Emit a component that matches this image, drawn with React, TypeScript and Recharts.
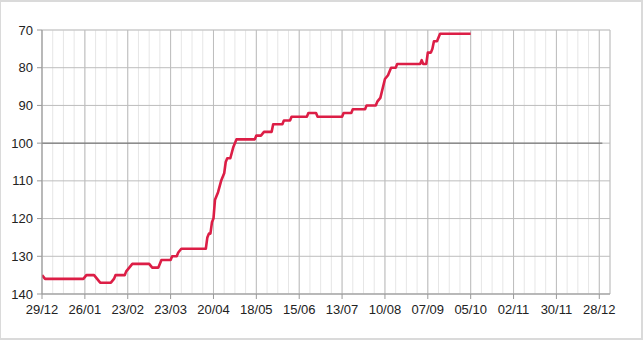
import React from 'react';
import { LineChart, Line, XAxis, YAxis, CartesianGrid, ReferenceLine } from 'recharts';

// day offset from 29/12 and rank
const days = [
  0, 2, 27, 29, 34, 36, 38, 45, 47, 48, 54, 55, 57, 59, 70, 72, 76, 78, 84, 85, 88, 89, 91,
  107, 108, 109, 110, 111, 112, 113, 115, 117, 119, 120, 121, 123, 125, 127, 139, 140, 143, 145,
  150, 151, 157, 158, 162, 163, 173, 174, 179, 180, 196, 197, 202, 203, 211, 212, 218, 219, 221,
  224, 226, 228, 231, 232, 247, 248, 249, 251, 252, 254, 255, 256, 258, 260, 280,
];
const ranks = [
  135, 136, 136, 135, 135, 136, 137, 137, 136, 135, 135, 134, 133, 132, 132, 133, 133, 131, 131, 130, 130, 129, 128,
  128, 125, 124, 124, 121, 120, 115, 113, 110, 108, 105, 104, 104, 101, 99, 99, 98, 98, 97,
  97, 95, 95, 94, 94, 93, 93, 92, 92, 93, 93, 92, 92, 91, 91, 90, 90, 89, 88,
  83, 82, 80, 80, 79, 79, 78, 79, 79, 76, 76, 75, 73, 73, 71, 71,
];

const majorTicks = [0, 28, 56, 84, 112, 140, 168, 196, 224, 252, 280, 308, 336, 364];
const tickLabels = ['29/12', '26/01', '23/02', '23/03', '20/04', '18/05', '15/06', '13/07', '10/08', '07/09', '05/10', '02/11', '30/11', '28/12'];
const minorTicks = [
  0, 7, 14, 21, 28, 35, 42, 49, 56, 63, 70, 77, 84, 91, 98, 105, 112, 119, 126, 133, 140, 147, 154,
  161, 168, 175, 182, 189, 196, 203, 210, 217, 224, 231, 238, 245, 252, 259, 266, 273, 280, 287, 294,
  301, 308, 315, 322, 329, 336, 343, 350, 357, 364, 371,
];
const yTicks = [70, 80, 90, 100, 110, 120, 130, 140];
const yMinorTicks = [70, 75, 80, 85, 90, 95, 100, 105, 110, 115, 120, 125, 130, 135, 140];

const data = days.map((d, i) => ({ day: d, rank: ranks[i] }));

const font = { fontFamily: '"Liberation Sans", Arial, sans-serif', fontSize: 13, fill: '#222' };

export default function App() {
  return (
    <div
      style={{
        position: 'absolute',
        left: 0,
        top: 0,
        width: 643,
        height: 340,
        boxSizing: 'border-box',
        border: '2px solid #dadada',
        borderLeftWidth: 1,
        background: '#fff',
      }}
    >
      <LineChart width={640} height={336} data={data} margin={{ top: 28, right: 31, bottom: 14, left: 0 }}>
        <XAxis
          xAxisId="minor"
          type="number"
          dataKey="day"
          domain={[0, 371]}
          ticks={minorTicks}
          tickFormatter={() => ''}
          height={0}
          tickSize={3}
          axisLine={false}
          tickLine={{ stroke: '#999' }}
          allowDataOverflow
        />
        <XAxis
          type="number"
          dataKey="day"
          domain={[0, 371]}
          ticks={majorTicks}
          tickFormatter={(v: number) => tickLabels[majorTicks.indexOf(v)] ?? ''}
          height={30}
          tickSize={5}
          tickMargin={6}
          tick={font}
          axisLine={{ stroke: '#999' }}
          tickLine={{ stroke: '#999' }}
          interval={0}
          allowDataOverflow
        />
        <YAxis
          yAxisId="minor"
          type="number"
          domain={[70, 140]}
          reversed
          ticks={yMinorTicks}
          width={0}
          tick={false}
          tickLine={false}
          axisLine={false}
        />
        <YAxis
          type="number"
          domain={[70, 140]}
          reversed
          ticks={yTicks}
          width={41}
          tickSize={5}
          tickMargin={4}
          tick={font}
          axisLine={{ stroke: '#999' }}
          tickLine={{ stroke: '#999' }}
          interval={0}
        />
        <CartesianGrid xAxisId="minor" yAxisId="minor" stroke="#e6e6e6" />
        <CartesianGrid stroke="#bdbdbd" />
        <ReferenceLine
          segment={[
            { x: 0, y: 100 },
            { x: 366, y: 100 },
          ]}
          stroke="#666"
          strokeWidth={1}
        />
        <Line
          type="linear"
          dataKey="rank"
          stroke="#dc1e46"
          strokeWidth={2.6}
          strokeLinejoin="round"
          dot={false}
          isAnimationActive={false}
        />
      </LineChart>
    </div>
  );
}
